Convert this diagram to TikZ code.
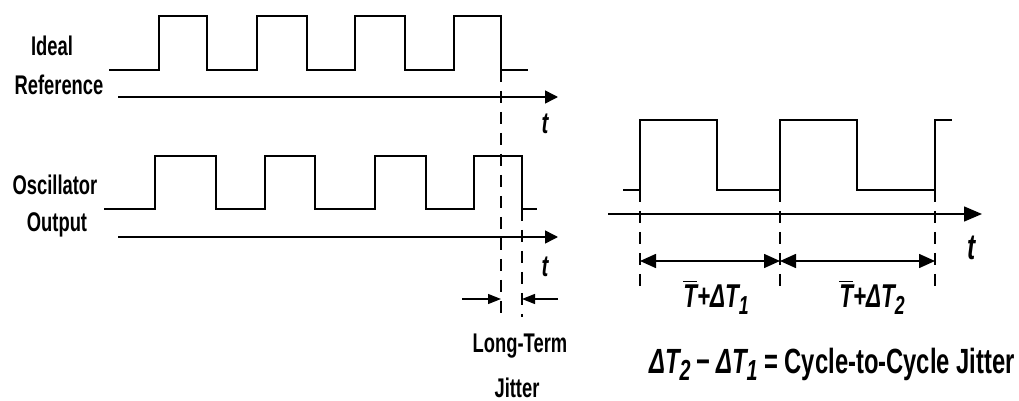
\documentclass[tikz,border=0pt]{standalone}
\usepackage{fontspec}
\setmainfont{Liberation Sans}[FakeStretch=0.68]
\usetikzlibrary{arrows.meta,positioning}
\newcommand\lowidx[2][13]{\raisebox{-3.8pt}{\fontsize{#1}{#1}\selectfont #2}}
\tikzset{
  wave/.style={line width=1.3pt,line join=miter},
  timeaxis/.style={line width=0.75pt,-{Triangle[length=6.5pt,width=6.5pt]}},
  guide/.style={line width=0.7pt,dash pattern=on 6pt off 4.5pt},
  jit/.style={line width=0.7pt,-{Triangle[length=6.5pt,width=5pt]}},
  span/.style={line width=0.8pt,{Triangle[length=8pt,width=7pt]}-{Triangle[length=8pt,width=7pt]}},
  lbl/.style={font=\fontsize{13.5}{15}\selectfont\bfseries,inner sep=0pt,anchor=base},
  tlbl/.style={font=\fontsize{15}{17}\selectfont\bfseries\itshape,inner sep=0pt,anchor=base},
  mlbl/.style={font=\fontsize{16.5}{18}\selectfont\bfseries\itshape,inner sep=0pt,anchor=base},
}
\begin{document}
\begin{tikzpicture}[x=0.5pt,y=-0.5pt]
  \useasboundingbox (0,0) rectangle (1019,401);
  % Ideal reference
  \node[lbl] (ideal) at (52,56) {Ideal};
  \node[lbl] (refer) at (59,95) {Reference};
  \draw[wave] (109,70) -| (159,16) -| (207,70) -| (257,16) -| (307,70) -| (355,16) -| (405,70) -| (454,16) -| (501,70) -- (528,70);
  \coordinate (ax1s) at (118,97);
  \coordinate (ax1e) at (558,97);
  \draw[timeaxis] (ax1s) -- (ax1e);
  \node[tlbl] (t1) at (545,134) {t};
  % Oscillator output
  \node[lbl] (osc) at (55,195) {Oscillator};
  \node[lbl] (outp) at (57,232) {Output};
  \draw[wave] (104,209) -| (155,156) -| (216,209) -| (265,156) -| (315,209) -| (375,156) -| (426,209) -| (474,156) -| (522,209) -- (537,209);
  \coordinate (ax2s) at (118,237);
  \coordinate (ax2e) at (558,237);
  \draw[timeaxis] (ax2s) -- (ax2e);
  \node[tlbl] (t2) at (545,277) {t};
  % Long-term jitter
  \coordinate (g1t) at (501,70);
  \coordinate (g1b) at (501,317);
  \coordinate (g2t) at (522,209);
  \coordinate (g2b) at (522,317);
  \draw[guide] (g1t) -- (g1b);
  \draw[guide] (g2t) -- (g2b);
  \coordinate (jl) at (462,299);
  \coordinate (jla) at (501,299);
  \coordinate (jr) at (558,299);
  \coordinate (jra) at (522,299);
  \draw[jit] (jl) -- (jla);
  \draw[jit] (jr) -- (jra);
  \node[lbl] (lterm) at (520,352) {Long-Term};
  \node[lbl] (jitter) at (517,397) {Jitter};
  % Cycle-to-cycle jitter
  \draw[wave] (623,190) -| (640,120) -| (717,190) -| (780,120) -| (857,190) -| (935,120) -- (952,120);
  \coordinate (ax3s) at (608,214);
  \coordinate (ax3e) at (982,214);
  \draw[timeaxis,-{Triangle[length=9pt,width=7.5pt]}] (ax3s) -- (ax3e);
  \node[mlbl,font=\fontsize{18}{20}\selectfont\bfseries\itshape] (t3) at (972,260) {t};
  \coordinate (c1t) at (640,190);
  \coordinate (c1b) at (640,287);
  \coordinate (c2t) at (780,190);
  \coordinate (c2b) at (780,287);
  \coordinate (c3t) at (935,190);
  \coordinate (c3b) at (935,287);
  \draw[guide] (c1t) -- (c1b);
  \draw[guide] (c2t) -- (c2b);
  \draw[guide] (c3t) -- (c3b);
  \coordinate (s1) at (640,261);
  \coordinate (s2) at (780,261);
  \coordinate (s3) at (935,261);
  \draw[span] (s1) -- (s2);
  \draw[span] (s2) -- (s3);
  \node[mlbl] (per1) at (716,307) {$\overline{\mbox{T}}$+ΔT\lowidx{1}};
  \node[mlbl] (per2) at (872,307) {$\overline{\mbox{T}}$+ΔT\lowidx{2}};
  \node[lbl,font=\fontsize{17.5}{19}\selectfont\bfseries] (cyc) at (832,373) {\itshape ΔT\lowidx[14.5]{2}\,\upshape−\,\itshape ΔT\lowidx[14.5]{1}\upshape\ = Cycle-to-Cycle Jitter};
\end{tikzpicture}
\end{document}
